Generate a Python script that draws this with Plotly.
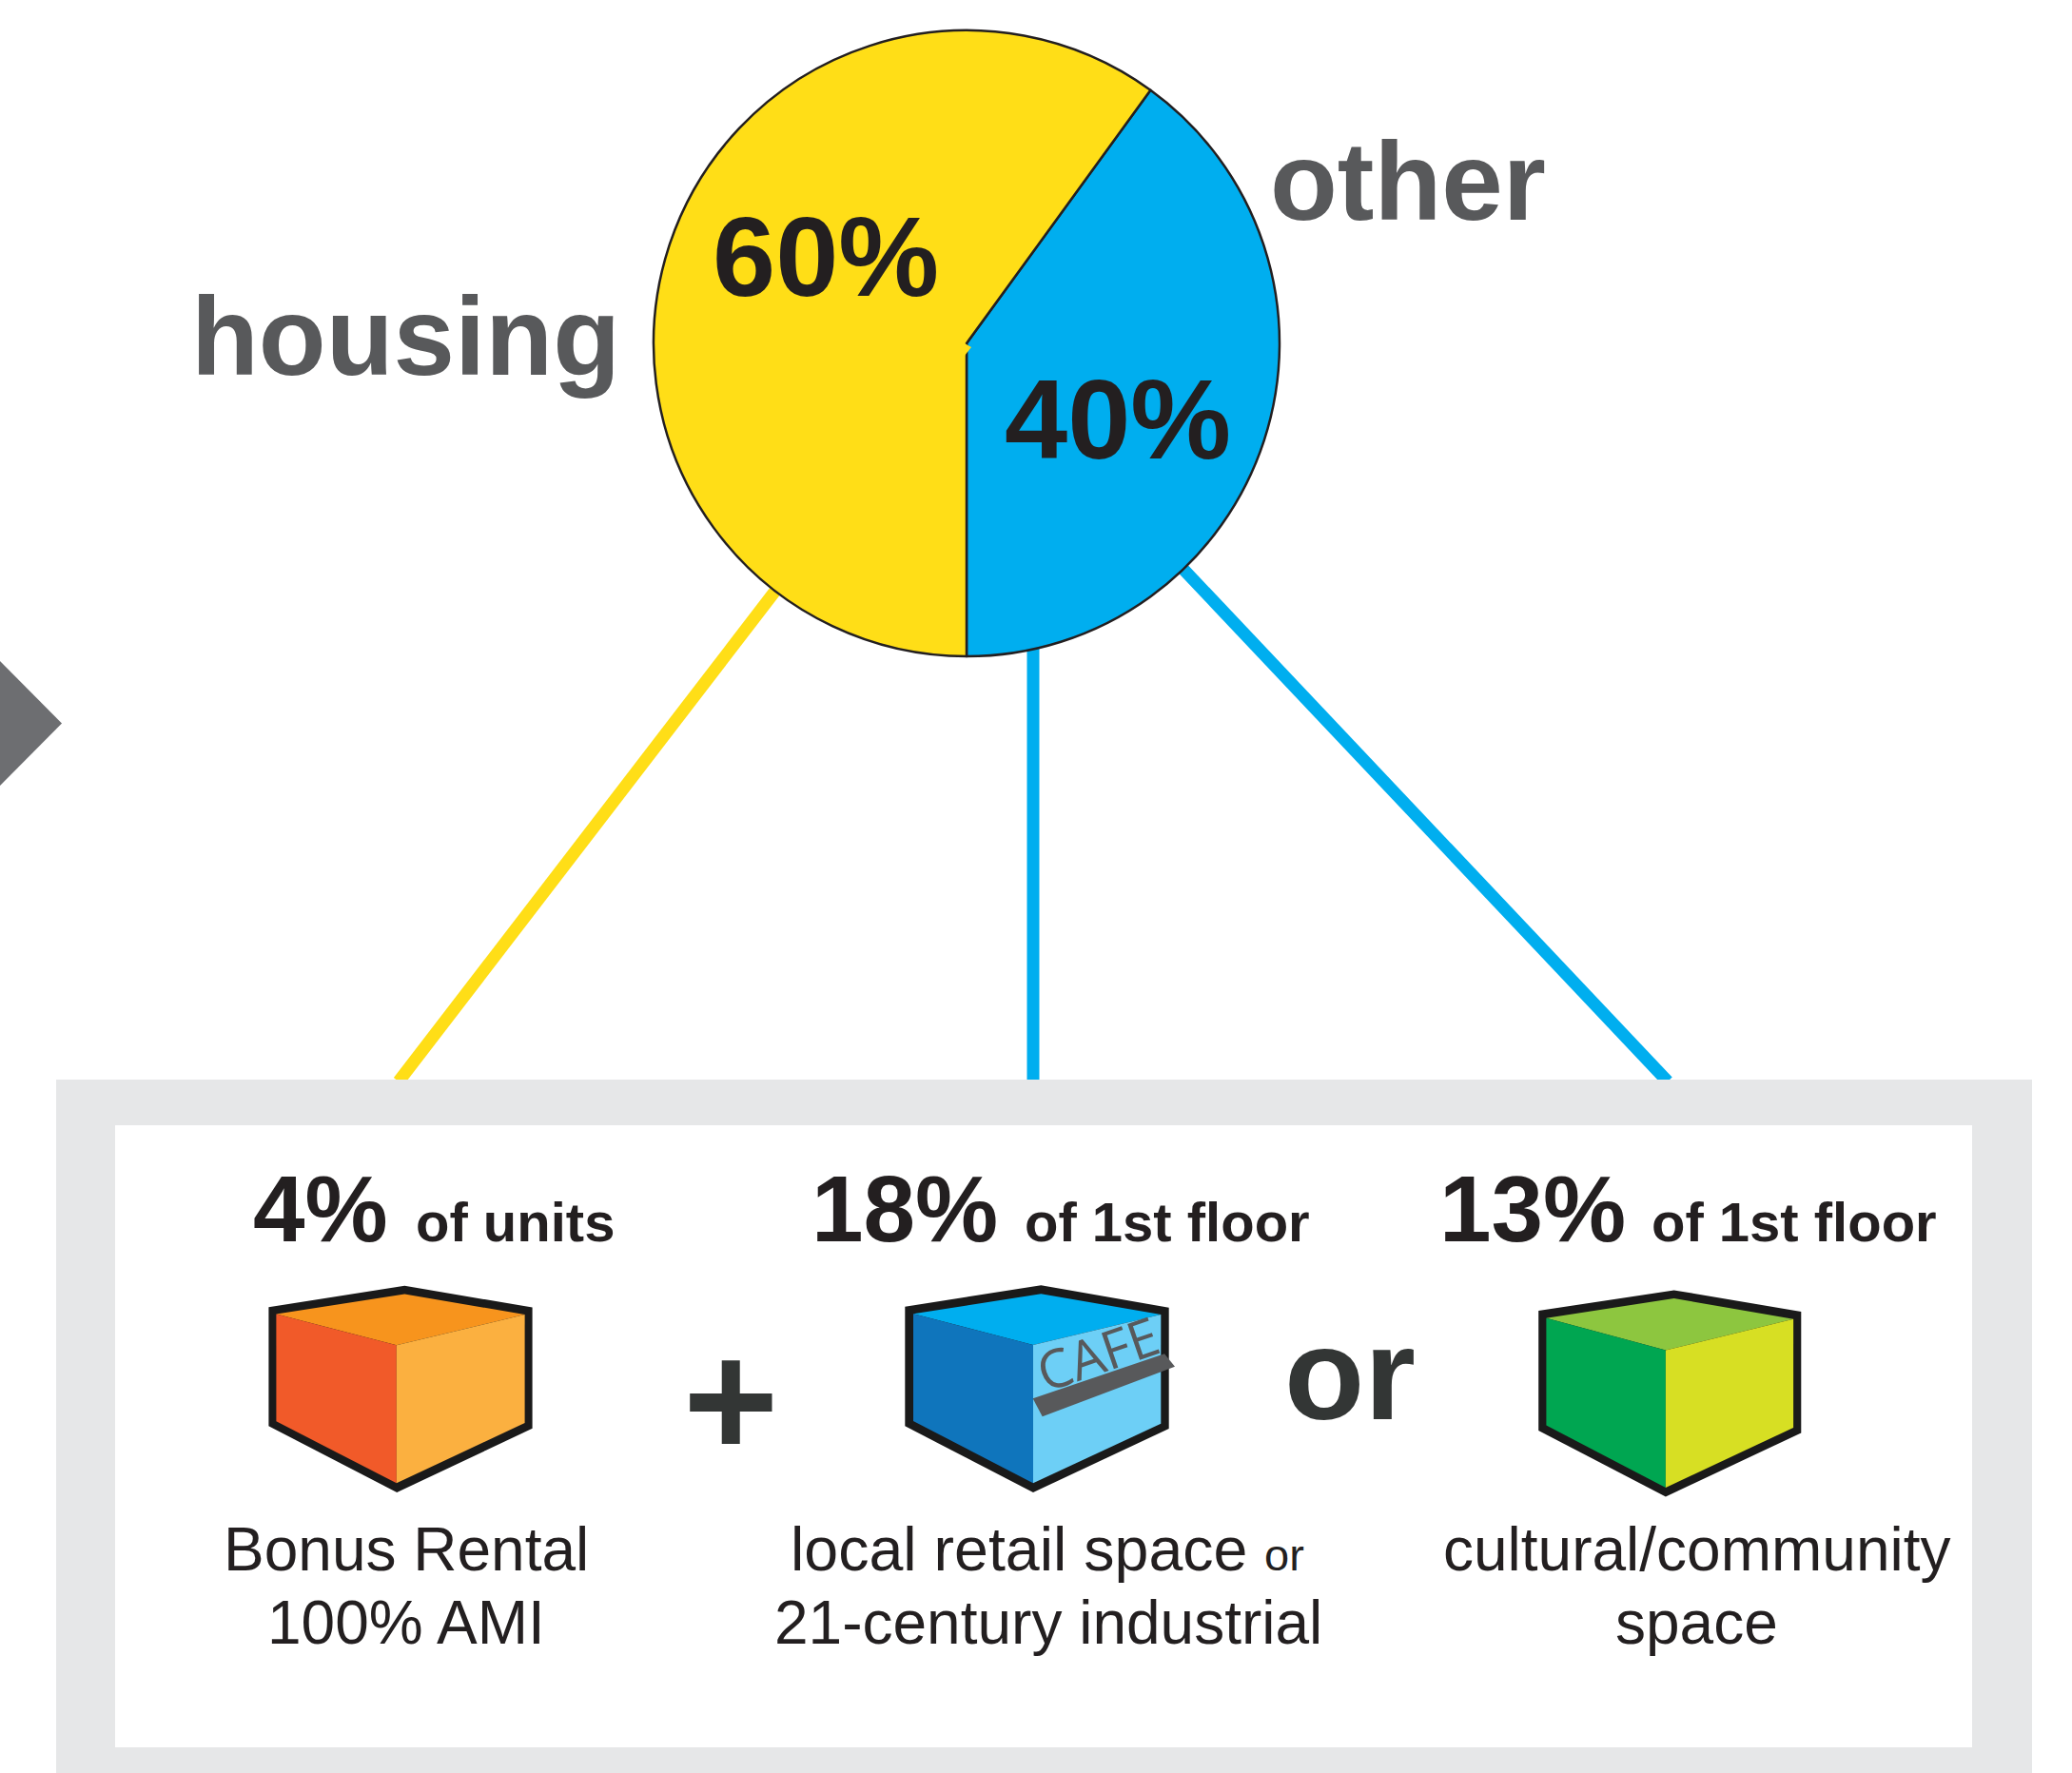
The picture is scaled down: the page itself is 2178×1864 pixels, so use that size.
import plotly.graph_objects as go

W, H = 2178, 1864

# Land-use split shown in the pie
slice_labels = ["other", "housing"]
slice_values = [40, 60]
slice_colors = ["#00aeef", "#ffde17"]

# Breakdown shown in the panel below the pie
share_values = [4, 18, 13]
share_units = ["of units", "of 1st floor", "of 1st floor"]

FONT = "Liberation Sans, Arial, sans-serif"
INK = "#231f20"
GREY_TEXT = "#58595b"
DARK = "#333635"
OUTLINE = "#1a1a1a"


def px(x):
    return x / W


def py(y):
    return 1 - y / H


def poly(points, fill, layer="above"):
    """Filled polygon given in page pixels."""
    path = "M " + " L ".join(f"{px(x):.5f},{py(y):.5f}" for x, y in points) + " Z"
    return dict(type="path", path=path, xref="paper", yref="paper",
                fillcolor=fill, line=dict(width=0), layer=layer)


def seg(p0, p1, color, width):
    return dict(type="line", xref="paper", yref="paper", layer="below",
                x0=px(p0[0]), y0=py(p0[1]), x1=px(p1[0]), y1=py(p1[1]),
                line=dict(color=color, width=width))


def rect(x0, y0, x1, y1, fill):
    return dict(type="rect", xref="paper", yref="paper", layer="below",
                x0=px(x0), y0=py(y0), x1=px(x1), y1=py(y1),
                fillcolor=fill, line=dict(width=0))


def label(text, cx, baseline, size, color=INK, bold=False, angle=0, family=FONT):
    """Centred text placed by its baseline."""
    yc = baseline - 0.3465 * size
    return dict(text=f"<b>{text}</b>" if bold else text,
                x=px(cx), y=py(yc), xref="paper", yref="paper",
                xanchor="center", yanchor="middle", showarrow=False,
                borderpad=0, textangle=angle,
                font=dict(family=family, size=size, color=color))


def cube(outer, apex, lt, centre, rt, rb, bottom, lb, top_c, left_c, right_c):
    return [
        poly(outer, OUTLINE),
        poly([apex, lt, centre, rt], top_c),
        poly([lt, centre, bottom, lb], left_c),
        poly([centre, rt, rb, bottom], right_c),
    ]


shapes = [
    # Arrow tip entering from the left edge
    poly([(0, 695), (65, 760.5), (0, 826)], "#6d6e71", "below"),
    # Connectors from the pie to the panel
    seg((822, 612), (419, 1137), slice_colors[1], 13),
    seg((1086, 670), (1086, 1137), slice_colors[0], 13),
    seg((1235, 589), (1753, 1137), slice_colors[0], 13),
    # Panel frame
    rect(59, 1135, 2136, 1864, "#e6e7e8"),
    rect(121, 1183, 2073, 1837, "#ffffff"),
]

shapes += cube(
    [(425.3, 1351.8), (282.4, 1374.3), (282.4, 1499.3), (417.2, 1568.9), (559.6, 1501.8), (559.6, 1374.6)],
    (425.3, 1360.4), (290.4, 1381.4), (416.8, 1414.3), (551.6, 1382), (551.6, 1496), (416.8, 1559.3), (290.4, 1494.3),
    "#f7941d", "#f15a29", "#fbb040",
)
shapes += cube(
    [(1094.3, 1351.3), (951.3, 1373.7), (951.3, 1499.3), (1086, 1569), (1228.7, 1502), (1228.7, 1374.7)],
    (1094.3, 1360.3), (960, 1381.3), (1086, 1414), (1220.3, 1382), (1220.3, 1496.7), (1086, 1559.3), (960, 1494),
    "#00aeef", "#0f75bc", "#6dcff6",
)
# Cafe awning
shapes.append(poly([(1085.7, 1470.3), (1224, 1423.3), (1235, 1436.7), (1095.7, 1489.3)], GREY_TEXT))
shapes += cube(
    [(1759.6, 1356.4), (1617.2, 1377.9), (1617.2, 1503.9), (1750.9, 1573.6), (1893.3, 1506.4), (1893.3, 1378.9)],
    (1759.6, 1365), (1625.4, 1385.7), (1750.9, 1419.6), (1885.1, 1386.8), (1885.1, 1501), (1750.9, 1563.9), (1625.4, 1498.6),
    "#8dc63f", "#00a651", "#d7df23",
)
# Small notch at the pie centre
shapes.append(poly([(1014, 361), (1021, 365), (1014, 374)], slice_colors[1]))

annotations = [
    label(slice_labels[1], 426, 394, 116, GREY_TEXT, True),
    label(slice_labels[0], 1479.5, 231, 116, GREY_TEXT, True),
    label(f"{slice_values[1]}%", 868, 311, 119, INK, True),
    label(f"{slice_values[0]}%", 1175, 482, 119, INK, True),

    label(f"{share_values[0]}%", 337, 1305, 98, INK, True),
    label(share_units[0], 541, 1305, 58, INK, True),
    label(f"{share_values[1]}%", 951, 1305, 98, INK, True),
    label(share_units[1], 1227, 1305, 58, INK, True),
    label(f"{share_values[2]}%", 1611, 1305, 98, INK, True),
    label(share_units[2], 1886, 1305, 58, INK, True),

    label("+", 768, 1531.6, 172, DARK, True),
    label("or", 1418.5, 1492, 138, DARK, True),

    label("Bonus Rental", 427, 1651, 64),
    label("100% AMI", 427, 1728, 64),
    label("local retail space", 1070.5, 1651, 64.5),
    label("or", 1349.5, 1651, 47),
    label("21-century industrial", 1102, 1728, 64),
    label("cultural/community", 1784, 1651, 64),
    label("space", 1783, 1728, 64),

    label("CAFE", 1153, 1441, 56, GREY_TEXT, angle=-19, family="Open Sans, sans-serif"),
]

fig = go.Figure(go.Pie(
    labels=slice_labels,
    values=slice_values,
    sort=False,
    direction="clockwise",
    rotation=36,
    textinfo="none",
    hoverinfo="label+percent",
    showlegend=False,
    marker=dict(colors=slice_colors, line=dict(color=INK, width=2.5)),
    domain=dict(x=[px(687), px(1345)], y=[py(690), py(32)]),
))

fig.update_layout(
    width=W,
    height=H,
    margin=dict(l=0, r=0, t=0, b=0),
    paper_bgcolor="#ffffff",
    shapes=shapes,
    annotations=annotations,
)

fig.write_html("out.html")
